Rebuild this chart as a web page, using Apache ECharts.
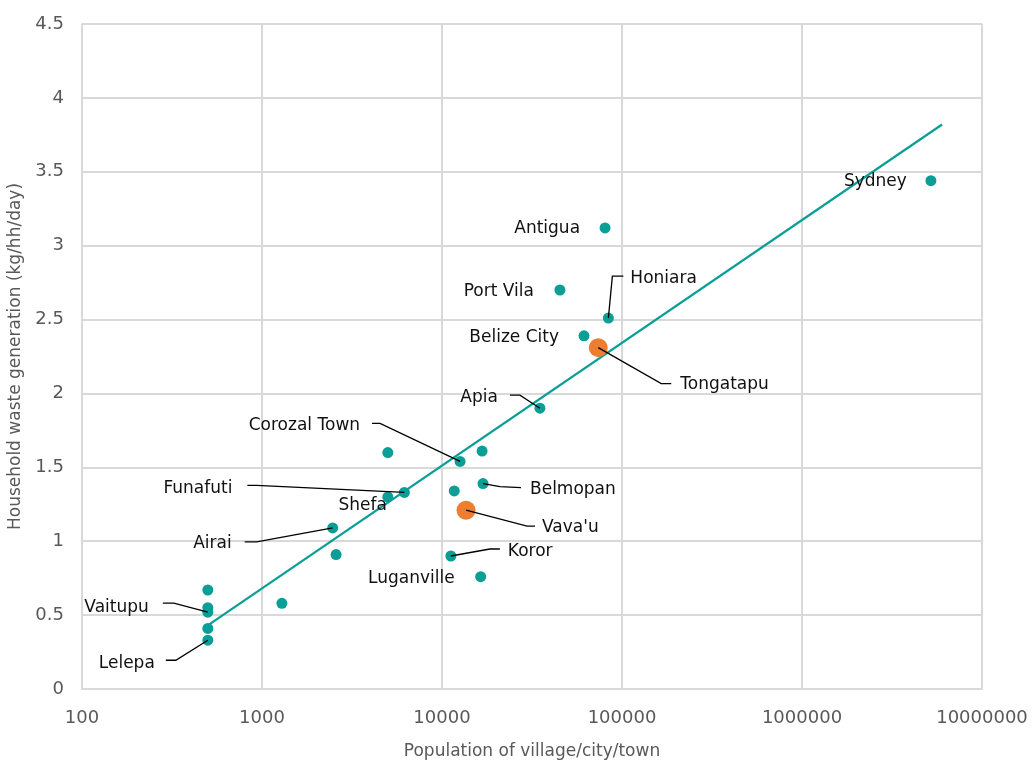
<!DOCTYPE html>
<html>
<head>
<meta charset="utf-8">
<script src="https://cdn.jsdelivr.net/npm/echarts@6/dist/echarts.min.js"></script>
<style>
  html, body { margin: 0; padding: 0; background: #ffffff; }
  #chart { width: 1033px; height: 760px; }
</style>
</head>
<body>
<div id="chart"></div>
<script>
// Household waste generation against settlement size (log scale)
const places = [
  'Sydney', 'Antigua', 'Port Vila', 'Honiara', 'Belize City', 'Apia',
  'Corozal Town', '', '', 'Belmopan', '', 'Funafuti', 'Shefa', '',
  'Airai', '', 'Koror', 'Luganville', '', '', '', 'Vaitupu', '', 'Lelepa'
];
const population = [
  5200000, 80500, 45200, 84000, 61500, 35000,
  12600, 16700, 5000, 16900, 11700, 6180, 5000, 13300,
  2470, 2580, 11200, 16400, 1290, 500, 500, 500, 500, 500
];
const wasteKgPerHhDay = [
  3.44, 3.12, 2.70, 2.51, 2.39, 1.90,
  1.54, 1.61, 1.60, 1.39, 1.34, 1.33, 1.30, 1.20,
  1.09, 0.91, 0.90, 0.76, 0.58, 0.67, 0.55, 0.52, 0.41, 0.33
];

// Tongan sites
const tongaPlaces = ['Tongatapu', "Vava'u"];
const tongaPopulation = [73800, 13600];
const tongaWaste = [2.31, 1.21];

// Logarithmic trend line end points
const trendPopulation = [500, 6000000];
const trendWaste = [0.43, 3.82];

const xTicks = [100, 1000, 10000, 100000, 1000000, 10000000];

// Label placement in pixels relative to each point, with optional elbow leader
const labelPlacement = {
  'Sydney':       { text: [-24, 1],   align: 'right' },
  'Antigua':      { text: [-25, 1],   align: 'right' },
  'Port Vila':    { text: [-26, 2],   align: 'right' },
  'Belize City':  { text: [-25, 2],   align: 'right' },
  'Honiara':      { text: [22, -39],  align: 'left',  leader: [[4, -42], [15, -42]] },
  'Tongatapu':    { text: [82, 37],   align: 'left',  leader: [[63, 36], [73, 36]] },
  'Apia':         { text: [-42, -11], align: 'right', leader: [[-20, -13], [-30, -13]] },
  'Corozal Town': { text: [-100, -36],align: 'right', leader: [[-80, -38], [-88, -38]] },
  'Funafuti':     { text: [-172, -4], align: 'right', leader: [[-148, -7], [-157, -7]] },
  'Shefa':        { text: [-1, 9],    align: 'right' },
  'Belmopan':     { text: [47, 6],    align: 'left',  leader: [[17, 3], [38, 4]] },
  "Vava'u":       { text: [76, 17],   align: 'left',  leader: [[61, 16], [69, 16]] },
  'Koror':        { text: [57, -4],   align: 'left',  leader: [[39, -7], [49, -7]] },
  'Luganville':   { text: [-26, 2],   align: 'right' },
  'Airai':        { text: [-101, 16], align: 'right', leader: [[-76, 14], [-88, 14]] },
  'Vaitupu':      { text: [-59, -5],  align: 'right', leader: [[-34, -9], [-45, -9]] },
  'Lelepa':       { text: [-53, 23],  align: 'right', leader: [[-32, 20], [-42, 20]] }
};

const TEAL = '#0a9e96';
const ORANGE = '#ed7d31';
const FONT = 'DejaVu Sans';
const GRID_GREY = '#d9d9d9';

const tealPoints = population.map((p, i) => ({ name: places[i], value: [p, wasteKgPerHhDay[i]] }));
const tongaPoints = tongaPopulation.map((p, i) => ({ name: tongaPlaces[i], value: [p, tongaWaste[i]] }));
const trendPoints = trendPopulation.map((p, i) => [p, trendWaste[i]]);

const labelled = tealPoints.concat(tongaPoints).filter(d => d.name && labelPlacement[d.name]);
const labelData = labelled.map(d => ({ name: d.name, value: d.value }));

const chart = echarts.init(document.getElementById('chart'), null, { renderer: 'canvas' });

chart.setOption({
  animation: false,
  backgroundColor: '#ffffff',
  textStyle: { fontFamily: FONT },
  grid: { left: 82, right: 51, top: 24, bottom: 71, containLabel: false, outerBoundsMode: 'none' },
  xAxis: {
    type: 'log',
    logBase: 10,
    min: xTicks[0],
    max: xTicks[xTicks.length - 1],
    name: 'Population of village/city/town',
    nameLocation: 'middle',
    nameGap: 54,
    nameTextStyle: { color: '#595959', fontSize: 17, fontFamily: FONT },
    axisLine: { show: true, lineStyle: { color: GRID_GREY, width: 2 } },
    axisTick: { show: false },
    axisLabel: {
      color: '#595959', fontSize: 18, fontFamily: FONT, margin: 20,
      formatter: v => String(Math.round(v))
    },
    splitLine: { show: true, lineStyle: { color: GRID_GREY, width: 2 } }
  },
  yAxis: {
    type: 'value',
    min: 0,
    max: 4.5,
    interval: 0.5,
    name: 'Household waste generation (kg/hh/day)',
    nameLocation: 'middle',
    nameGap: 56,
    nameTextStyle: { color: '#595959', fontSize: 17, fontFamily: FONT },
    axisLine: { show: true, lineStyle: { color: GRID_GREY, width: 2 } },
    axisTick: { show: false },
    axisLabel: { color: '#595959', fontSize: 18, fontFamily: FONT, margin: 18 },
    splitLine: { show: true, lineStyle: { color: GRID_GREY, width: 2 } }
  },
  series: [
    {
      type: 'line',
      data: trendPoints,
      showSymbol: false,
      symbol: 'none',
      silent: true,
      lineStyle: { color: TEAL, width: 2.2 },
      z: 3
    },
    {
      type: 'scatter',
      data: tealPoints,
      symbolSize: 11,
      itemStyle: { color: TEAL, opacity: 1 },
      z: 4
    },
    {
      type: 'scatter',
      data: tongaPoints,
      symbolSize: 19,
      itemStyle: { color: ORANGE, opacity: 1 },
      z: 5
    },
    {
      type: 'custom',
      data: labelData,
      z: 6,
      silent: true,
      encode: { x: 0, y: 1 },
      renderItem: function (params, api) {
        const name = labelData[params.dataIndex].name;
        const place = labelPlacement[name];
        const pt = api.coord([api.value(0), api.value(1)]);
        const children = [];
        if (place.leader) {
          const pts = [pt].concat(place.leader.map(o => [pt[0] + o[0], pt[1] + o[1]]));
          children.push({
            type: 'polyline',
            shape: { points: pts },
            style: { stroke: '#000000', lineWidth: 1.3, fill: null }
          });
        }
        children.push({
          type: 'text',
          x: pt[0] + place.text[0],
          y: pt[1] + place.text[1],
          style: {
            text: name,
            fill: '#111111',
            fontSize: 17,
            fontFamily: FONT,
            align: place.align,
            verticalAlign: 'middle'
          }
        });
        return { type: 'group', children: children };
      }
    }
  ]
});
</script>
</body>
</html>
